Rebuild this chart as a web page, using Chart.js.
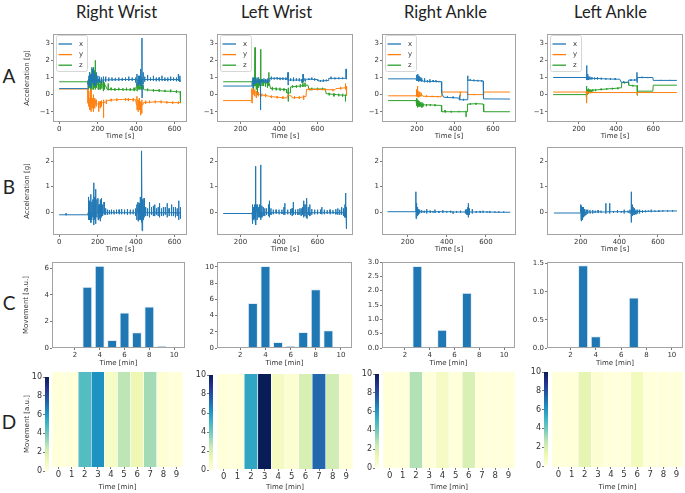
<!DOCTYPE html>
<html>
<head>
<meta charset="utf-8">
<script src="https://cdn.jsdelivr.net/npm/chart.js@4.4.1/dist/chart.umd.min.js"></script>
<style>
  html, body { margin: 0; padding: 0; background: #fff; }
  #page { position: relative; width: 685px; height: 493px; overflow: hidden; font-family: Lato, "Open Sans", sans-serif; color: #222; }
  .ttl { position: absolute; font-size: 16.5px; transform: translate(-50%, -50%); white-space: nowrap; }
  .letter { position: absolute; font-size: 19px; transform: translate(-50%, -50%); }
</style>
</head>
<body>
<div id="page"></div>
<script>
// ---- labels ----
const colTitles = ['Right Wrist', 'Left Wrist', 'Right Ankle', 'Left Ankle']
const rowLetters = ['A', 'B', 'C', 'D']
const minuteLabels = ['0', '1', '2', '3', '4', '5', '6', '7', '8', '9']
const barMinutes = [1, 2, 3, 4, 5, 6, 7, 8, 9, 10]

// time series are stored as a baseline [time s, g] plus spikes [time s, baseline, high, low]

// ---- row A: acceleration per axis ----
const rwXBase = [[0,0.35],[149,0.35],[150,0.85],[633,0.88]]
const rwXSpikes = [[155,0.85,1.1,0.5],[160,0.85,1.3,0.6],[166,0.85,1.2,0.4],[172,0.85,1.5,0.7],[179,0.85,1.6,0.6],[186,0.85,1.2,0.5],[193,0.85,1.3,0.6],[201,0.85,1.1,0.7],[210,0.85,1.05,0.7],[220,0.85,1.0,0.65],[230,0.85,1.05,0.7],[242,0.86,1.05,0.75],[258,0.86,1.0,0.78],[275,0.87,1.0,0.8],[292,0.87,0.98,0.8],[310,0.87,1.0,0.8],[328,0.88,0.98,0.8],[345,0.88,1.0,0.8],[362,0.88,1.05,0.8],[380,0.88,1.0,0.8],[398,0.88,1.0,0.7],[405,0.85,1.2,0.5],[412,0.85,1.1,0.55],[418,0.85,1.1,0.6],[424,0.85,1.5,0.5],[431,0.88,3.3,-0.2],[437,0.88,1.3,0.6],[445,0.88,1.05,0.75],[460,0.88,1.15,0.8],[475,0.88,1.0,0.8],[490,0.88,1.1,0.8],[505,0.88,1.0,0.78],[520,0.88,1.0,0.78],[535,0.88,1.1,0.8],[550,0.88,1.0,0.8],[565,0.88,1.0,0.78],[580,0.88,1.05,0.8],[595,0.88,1.0,0.8],[610,0.88,1.0,0.78],[620,0.88,1.2,0.8],[628,0.88,1.1,0.75]]
const rwYBase = [[0,0.33],[149,0.33],[150,-0.5],[200,-0.55],[240,-0.45],[250,-0.35],[330,-0.28],[398,-0.3],[402,-0.6],[435,-0.6],[440,-0.45],[633,-0.45]]
const rwYSpikes = [[154,-0.5,0.2,-0.7],[160,-0.5,-0.2,-0.9],[166,-0.5,0.3,-1.0],[172,-0.5,-0.2,-0.8],[178,-0.5,0.0,-1.0],[185,-0.55,-0.2,-0.8],[192,-0.55,-0.3,-0.7],[206,-0.55,-0.4,-1.0],[213,-0.5,-0.4,-0.8],[220,-0.5,-0.35,-0.7],[231,-0.45,-0.3,-1.35],[245,-0.4,-0.3,-0.55],[270,-0.32,-0.25,-0.4],[300,-0.3,-0.22,-0.38],[345,-0.28,-0.2,-0.35],[360,-0.28,-0.2,-0.38],[385,-0.3,-0.2,-0.4],[405,-0.6,-0.1,-0.9],[411,-0.6,-0.3,-1.0],[417,-0.6,-0.2,-0.9],[424,-0.6,-0.4,-1.2],[430,-0.6,-0.3,-1.1],[450,-0.45,-0.35,-0.55],[470,-0.45,-0.35,-0.5],[500,-0.42,-0.35,-0.5],[530,-0.42,-0.35,-0.5],[560,-0.45,-0.38,-0.52],[590,-0.47,-0.4,-0.55],[620,-0.47,-0.4,-0.55]]
const rwZBase = [[0,0.75],[149,0.75],[150,0.6],[240,0.55],[250,0.3],[398,0.28],[400,0.45],[440,0.35],[445,0.28],[633,0.15]]
const rwZSpikes = [[153,0.6,0.9,0.3],[158,0.6,1.3,0.4],[164,0.6,1.1,0.2],[170,0.6,1.6,0.3],[176,0.6,1.0,0.3],[182,0.6,1.4,0.4],[188,0.6,2.0,0.3],[194,0.6,1.2,0.4],[202,0.6,0.9,0.3],[207,0.6,0.9,0.3],[214,0.58,0.8,0.3],[222,0.57,0.8,0.35],[230,0.55,0.8,0.2],[236,0.55,0.7,0.3],[255,0.3,0.65,0.25],[270,0.3,0.4,0.25],[290,0.3,0.38,0.24],[310,0.3,0.4,0.25],[332,0.29,0.38,0.23],[350,0.29,0.4,0.24],[370,0.28,0.38,0.22],[390,0.28,0.4,0.2],[405,0.45,0.7,0.2],[412,0.45,0.8,0.3],[420,0.45,0.8,0.3],[428,0.45,1.0,0.3],[437,0.4,0.55,0.3],[460,0.27,0.35,0.2],[490,0.25,0.32,0.18],[520,0.23,0.3,0.16],[550,0.2,0.28,0.15],[580,0.2,0.3,0.14],[610,0.17,0.25,0.1],[630,0.15,0.2,-0.5]]

const lwXBase = [[110,0.5],[259,0.5],[261,0.8],[350,0.78],[352,0.95],[440,0.92],[442,0.85],[540,0.85],[542,0.9],[600,0.88],[602,0.8],[655,0.82],[658,0.95],[752,0.92]]
const lwXSpikes = [[265,0.8,1.0,0.4],[272,0.8,0.95,0.6],[280,0.8,1.0,0.65],[290,0.8,1.0,0.7],[298,0.8,0.9,0.6],[304,0.8,0.85,-0.9],[312,0.8,0.9,0.7],[322,0.8,0.95,0.7],[332,0.8,0.9,0.7],[342,0.8,0.95,0.7],[360,0.95,1.05,0.88],[375,0.95,1.0,0.88],[390,0.95,1.0,0.88],[405,0.93,1.0,0.85],[420,0.93,1.0,0.88],[435,0.92,1.0,0.85],[447,0.85,1.3,0.55],[460,0.85,0.95,0.8],[475,0.85,1.0,0.78],[490,0.85,0.95,0.8],[505,0.85,0.95,0.78],[518,0.85,0.9,0.7],[525,0.85,1.2,0.75],[535,0.85,0.95,0.78],[555,0.9,0.95,0.85],[570,0.9,1.0,0.85],[585,0.88,0.95,0.82],[615,0.8,0.85,0.75],[630,0.8,0.88,0.75],[645,0.82,0.88,0.78],[670,0.95,1.05,0.9],[690,0.95,1.0,0.9],[710,0.95,1.0,0.9],[730,0.95,1.0,0.9],[748,0.95,1.5,0.9]]
const lwYBase = [[110,-0.35],[258,-0.35],[261,0.25],[300,0.0],[350,-0.1],[440,-0.2],[445,-0.05],[465,-0.08],[470,-0.2],[520,-0.15],[540,-0.1],[543,0.3],[690,0.28],[695,0.35],[752,0.4]]
const lwYSpikes = [[259.5,-0.35,0.35,-0.5],[266,0.2,0.35,0.0],[274,0.15,0.3,-0.1],[282,0.1,0.2,-0.2],[292,0.05,0.15,-0.1],[310,-0.02,0.05,-0.1],[330,-0.05,0.05,-0.15],[360,-0.12,-0.05,-0.2],[390,-0.15,-0.1,-0.22],[420,-0.18,-0.1,-0.25],[480,-0.18,-0.1,-0.25],[505,-0.17,-0.1,-0.25],[528,-0.13,-0.05,-0.3],[560,0.3,0.38,0.25],[600,0.3,0.35,0.25],[640,0.29,0.35,0.24],[680,0.28,0.33,0.2],[720,0.37,0.45,0.3],[745,0.4,0.65,0.3],[750,0.4,0.5,-0.05]]
const lwZBase = [[110,0.75],[260,0.75],[262,0.7],[350,0.65],[356,0.35],[438,0.3],[440,0.1],[458,0.1],[460,0.45],[515,0.5],[520,0.55],[550,0.55],[555,0.32],[640,0.33],[645,0.05],[700,0.0],[752,-0.05]]
const lwZSpikes = [[265,0.7,0.9,0.3],[270,0.7,1.0,0.5],[276,0.7,2.75,0.5],[282,0.7,0.9,0.3],[288,0.7,0.8,0.0],[294,0.7,1.0,0.4],[300,0.7,0.9,0.5],[305,0.7,2.65,0.5],[312,0.7,0.9,0.5],[320,0.7,0.85,0.5],[330,0.68,0.9,0.45],[340,0.67,0.85,0.4],[347,0.66,1.3,0.5],[365,0.35,0.45,0.25],[385,0.33,0.4,0.25],[405,0.32,0.4,0.22],[425,0.3,0.38,0.2],[448,0.1,0.4,-0.4],[470,0.46,0.55,0.4],[490,0.48,0.55,0.4],[510,0.5,0.6,0.42],[524,0.55,0.9,0.45],[535,0.55,0.7,0.45],[570,0.32,0.4,0.25],[600,0.33,0.4,0.28],[625,0.33,0.4,0.26],[660,0.04,0.1,-0.05],[685,0.01,0.08,-0.1],[710,-0.02,0.05,-0.1],[730,-0.03,0.05,-0.12],[745,-0.04,0.0,-0.4]]

const raXBase = [[48,0.92],[195,0.92],[197,0.95],[228,0.85],[232,0.78],[328,0.76],[330,0.1],[340,-0.15],[420,-0.2],[422,-0.3],[464,-0.3],[466,0.85],[548,0.8],[550,-0.25],[689,-0.26]]
const raXSpikes = [[199,0.95,1.15,0.8],[204,0.95,1.2,0.8],[209,0.93,1.1,0.75],[214,0.9,1.05,0.8],[220,0.88,1.0,0.78],[225,0.86,0.95,0.75],[240,0.78,0.95,0.72],[255,0.78,0.85,0.72],[268,0.77,0.9,0.72],[285,0.77,0.85,0.73],[300,0.77,0.85,0.72],[315,0.76,0.8,0.72],[360,-0.17,-0.1,-0.2],[390,-0.18,-0.12,-0.22],[425,-0.3,-0.05,-0.32],[445,-0.3,-0.25,-0.35],[468,0.85,1.1,0.8],[480,0.84,0.9,0.8],[500,0.82,0.88,0.78],[520,0.81,0.86,0.77],[540,0.8,0.85,0.76]]
const raYBase = [[48,-0.07],[195,-0.07],[230,-0.05],[232,-0.1],[328,-0.12],[330,0.15],[464,0.15],[466,0.0],[549,0.0],[551,0.15],[689,0.15]]
const raYSpikes = [[198,-0.07,0.3,-0.1],[201.5,-0.07,0.5,-0.15],[205,-0.07,0.35,-0.1],[210,-0.07,0.2,-0.15],[216,-0.06,0.15,-0.1],[222,-0.05,0.1,-0.1],[250,-0.1,-0.05,-0.15],[280,-0.11,-0.07,-0.15],[310,-0.12,-0.08,-0.15],[428,0.15,0.17,-0.1],[500,0.0,0.03,-0.03]]
const raZBase = [[48,-0.35],[195,-0.35],[197,-0.5],[238,-0.6],[328,-0.63],[330,-1.0],[464,-1.0],[466,-0.55],[549,-0.55],[551,-1.0],[689,-1.0]]
const raZSpikes = [[199,-0.5,-0.2,-0.65],[203,-0.5,-0.3,-0.75],[208,-0.52,-0.35,-0.7],[213,-0.55,-0.4,-0.7],[219,-0.55,-0.45,-0.7],[226,-0.57,-0.45,-0.75],[232,-0.58,-0.5,-0.7],[250,-0.6,-0.55,-0.68],[270,-0.6,-0.55,-0.66],[295,-0.62,-0.55,-0.68],[348,-1.0,-0.9,-1.05],[380,-1.0,-0.95,-1.05],[420,-1.0,-0.95,-1.03],[458,-1.0,-0.95,-1.3],[480,-0.55,-0.5,-0.6],[510,-0.53,-0.48,-0.58]]

const laXBase = [[62,1.0],[240,1.0],[242,0.95],[420,0.9],[428,0.72],[466,0.72],[468,0.85],[512,0.85],[514,1.0],[598,1.0],[600,0.83],[727,0.83]]
const laXSpikes = [[243,0.95,1.7,0.85],[248,0.95,1.2,0.85],[253,0.95,1.05,0.85],[260,0.95,1.05,0.88],[270,0.95,1.02,0.88],[285,0.94,1.0,0.88],[300,0.94,1.02,0.88],[320,0.93,0.98,0.88],[345,0.92,0.97,0.87],[370,0.91,0.96,0.86],[395,0.9,0.95,0.86],[440,0.72,0.77,0.68],[480,0.85,0.9,0.8],[500,0.85,0.9,0.8],[513,0.9,1.3,0.7],[540,1.0,1.04,0.96],[570,1.0,1.03,0.96],[640,0.83,0.86,0.8],[690,0.83,0.86,0.8]]
const laYBase = [[62,0.15],[240,0.15],[244,0.12],[727,0.12]]
const laYSpikes = [[242,0.15,0.2,-0.5],[248,0.12,0.2,0.05],[260,0.12,0.18,0.08],[514,0.12,0.15,0.0]]
const laZBase = [[62,0.0],[240,0.0],[244,0.2],[300,0.28],[428,0.4],[430,0.7],[466,0.72],[468,0.55],[512,0.5],[516,0.2],[598,0.2],[600,0.55],[727,0.55]]
const laZSpikes = [[242,0.0,0.5,-0.3],[247,0.2,0.3,0.0],[252,0.2,0.35,0.05],[258,0.22,0.3,0.1],[265,0.23,0.3,0.15],[275,0.25,0.32,0.18],[290,0.27,0.33,0.2],[320,0.3,0.35,0.25],[350,0.33,0.38,0.28],[380,0.35,0.4,0.3],[410,0.38,0.42,0.32],[445,0.7,0.75,0.65],[490,0.52,0.57,0.47],[514,0.5,0.55,-0.05]]

// ---- row B: dynamic acceleration ----
const rwBBase = [[0,-0.1],[148,-0.1],[150,-0.02],[633,-0.03]]
const rwBSpikes = [[36,-0.1,-0.05,-0.12],[152,-0.02,0.6,-0.3],[156,-0.02,0.3,-0.2],[160,-0.02,0.45,-0.3],[165,-0.02,0.7,-0.4],[170,-0.02,0.4,-0.3],[175,-0.02,0.5,-0.2],[180,-0.02,1.15,-0.5],[185,-0.02,0.6,-0.3],[190,-0.02,0.9,-0.45],[196,-0.02,0.5,-0.2],[202,-0.02,0.55,-0.3],[208,-0.02,0.3,-0.25],[214,-0.02,0.5,-0.35],[220,-0.02,0.55,-0.2],[226,-0.02,0.3,-0.15],[234,-0.02,0.4,-0.1],[242,-0.02,0.15,-0.1],[252,-0.02,0.1,-0.1],[262,-0.02,0.08,-0.08],[272,-0.02,0.1,-0.08],[285,-0.02,0.08,-0.08],[298,-0.02,0.1,-0.06],[312,-0.02,0.1,-0.08],[325,-0.02,0.12,-0.08],[340,-0.02,0.1,-0.08],[355,-0.02,0.12,-0.1],[370,-0.02,0.1,-0.08],[385,-0.02,0.1,-0.08],[398,-0.02,0.15,-0.15],[404,-0.02,0.3,-0.3],[410,-0.02,0.4,-0.35],[416,-0.02,0.35,-0.3],[422,-0.02,0.6,-0.3],[427,-0.02,0.5,-0.4],[431,-0.02,2.4,-0.72],[436,-0.02,0.5,-0.3],[442,-0.02,0.55,-0.2],[450,-0.02,0.2,-0.15],[460,-0.02,0.15,-0.15],[470,-0.02,0.4,-0.2],[480,-0.02,0.2,-0.1],[490,-0.02,0.25,-0.15],[497,-0.02,0.3,-0.15],[506,-0.02,0.15,-0.1],[515,-0.02,0.2,-0.15],[522,-0.02,0.35,-0.2],[532,-0.02,0.15,-0.15],[542,-0.02,0.2,-0.15],[552,-0.02,0.2,-0.1],[562,-0.02,0.35,-0.2],[572,-0.02,0.15,-0.15],[585,-0.02,0.3,-0.15],[595,-0.02,0.2,-0.15],[605,-0.02,0.2,-0.2],[614,-0.02,0.15,-0.15],[622,-0.02,0.45,-0.3],[630,-0.02,0.2,-0.25]]
const lwBBase = [[110,-0.05],[258,-0.05],[259,-0.02],[752,-0.02]]
const lwBSpikes = [[261,-0.02,0.3,-0.45],[265,-0.02,0.3,-0.3],[270,-0.02,0.2,-0.25],[275,-0.02,0.3,-0.3],[280,-0.02,1.8,-0.5],[286,-0.02,0.3,-0.3],[292,-0.02,0.2,-0.2],[298,-0.02,0.3,-0.2],[305,-0.02,1.85,-0.3],[311,-0.02,0.25,-0.2],[318,-0.02,0.2,-0.15],[326,-0.02,0.15,-0.15],[335,-0.02,0.15,-0.1],[345,-0.02,0.3,-0.15],[350,-0.02,0.45,-0.2],[358,-0.02,0.15,-0.1],[370,-0.02,0.1,-0.08],[385,-0.02,0.1,-0.06],[400,-0.02,0.1,-0.08],[415,-0.02,0.1,-0.06],[425,-0.02,0.2,-0.1],[430,-0.02,0.35,-0.1],[445,-0.02,0.1,-0.08],[460,-0.02,0.12,-0.1],[468,-0.02,0.15,-0.15],[474,-0.02,0.4,-0.1],[485,-0.02,0.1,-0.1],[498,-0.02,0.12,-0.1],[508,-0.02,0.15,-0.1],[515,-0.02,0.15,-0.15],[522,-0.02,0.2,-0.1],[528,-0.02,0.45,-0.2],[534,-0.02,0.3,-0.15],[540,-0.02,0.3,-0.2],[545,-0.02,0.55,-0.25],[552,-0.02,0.2,-0.1],[560,-0.02,0.3,-0.15],[570,-0.02,0.12,-0.1],[585,-0.02,0.1,-0.08],[600,-0.02,0.1,-0.08],[615,-0.02,0.1,-0.06],[622,-0.02,0.2,-0.08],[635,-0.02,0.1,-0.08],[650,-0.02,0.08,-0.06],[665,-0.02,0.1,-0.08],[680,-0.02,0.08,-0.06],[695,-0.02,0.12,-0.08],[705,-0.02,0.15,-0.1],[715,-0.02,0.1,-0.1],[725,-0.02,0.2,-0.1],[735,-0.02,0.15,-0.15],[742,-0.02,0.3,-0.2],[746,-0.02,0.75,-0.2],[749,-0.02,0.2,-0.65]]
const raBBase = [[98,0.02],[724,0.0]]
const raBSpikes = [[243,0.02,0.8,-0.25],[247,0.02,0.35,-0.15],[251,0.02,0.2,-0.15],[256,0.02,0.12,-0.1],[262,0.02,0.1,-0.05],[272,0.02,0.08,-0.03],[285,0.02,0.06,-0.03],[298,0.02,0.12,-0.05],[315,0.02,0.06,-0.03],[330,0.02,0.05,-0.02],[340,0.02,0.1,-0.03],[360,0.02,0.05,-0.02],[380,0.02,0.08,-0.03],[400,0.02,0.05,-0.02],[420,0.02,0.06,-0.02],[432,0.01,0.04,-0.06],[450,0.01,0.05,-0.03],[470,0.01,0.06,-0.03],[495,0.01,0.1,-0.05],[502,0.01,0.12,-0.1],[507,0.01,0.2,-0.1],[510,0.01,0.35,-0.2],[515,0.01,0.15,-0.1],[530,0.01,0.12,-0.05],[550,0.01,0.05,-0.03],[570,0.01,0.05,-0.03],[585,0.01,0.06,-0.02],[605,0.01,0.04,-0.02],[620,0.01,0.05,-0.02],[645,0.0,0.04,-0.02],[665,0.0,0.04,-0.02],[690,0.0,0.03,-0.02]]
const laBBase = [[61,-0.03],[198,-0.03],[199,0.0],[699,0.05]]
const laBSpikes = [[201,-0.02,0.3,-0.3],[204.5,0.0,0.25,-0.35],[208,0.0,0.2,-0.3],[212,0.0,0.2,-0.2],[217,0.0,0.15,-0.15],[222,0.0,0.12,-0.12],[228,0.0,0.1,-0.1],[236,0.0,0.1,-0.06],[248,0.01,0.08,-0.05],[262,0.01,0.08,-0.05],[275,0.01,0.06,-0.03],[290,0.01,0.08,-0.03],[305,0.01,0.06,-0.02],[330,0.01,0.35,-0.05],[350,0.02,0.35,-0.05],[370,0.02,0.05,-0.02],[390,0.02,0.08,-0.02],[410,0.02,0.05,-0.02],[425,0.02,0.1,-0.05],[445,0.02,0.06,-0.02],[455,0.02,0.1,-0.05],[462,0.02,0.8,-0.4],[467,0.02,0.3,-0.15],[472,0.03,0.2,-0.1],[478,0.03,0.15,-0.1],[486,0.03,0.1,-0.08],[495,0.03,0.1,-0.05],[505,0.03,0.1,-0.05],[520,0.03,0.08,-0.02],[535,0.03,0.08,0.0],[550,0.04,0.07,0.01],[565,0.04,0.1,0.0],[585,0.04,0.07,0.01],[605,0.04,0.08,0.01],[625,0.05,0.08,0.02],[650,0.05,0.08,0.02],[675,0.05,0.08,0.02]]

// ---- rows C and D: movement per minute (a.u.) ----
const rwMove = [0, 0, 4.62, 6.2, 0.6, 2.68, 1.18, 3.12, 0.15, 0]
const lwMove = [0, 0, 5.55, 10.1, 0.73, 0.24, 1.98, 7.25, 2.18, 0]
const raMove = [0, 0, 2.86, 0, 0.64, 0, 1.93, 0, 0, 0]
const laMove = [0, 0, 1.47, 0.21, 0, 0, 0.9, 0, 0, 0]

// axis settings
const accTicks = [-1, 0, 1, 2, 3]
const dynTicks = [0, 1, 2]
const timeTicks = [[0, 200, 400, 600], [200, 400, 600], [200, 400, 600], [200, 400, 600]]
const rangeA = [[-32, 665], [78, 784], [16, 721], [29, 760]]
const rangeB = [[-32, 665], [78, 784], [70, 753], [25, 730]]
const moveTicks = [[0, 2, 4, 6], [0, 2, 4, 6, 8, 10], [0, 0.5, 1, 1.5, 2, 2.5, 3], [0, 0.5, 1, 1.5]]
const moveMax = [6.48, 10.6, 3.0, 1.53]
const moveDecimals = [0, 0, 1, 1]
const heatTicks = [0, 2, 4, 6, 8, 10]

function buildSeries(base, spikes) {
    let pts = base.map(p => [p[0], p[1]])
    spikes.forEach(s => {
        pts.push([s[0] - 0.8, s[1]], [s[0] - 0.3, s[2]], [s[0] + 0.3, s[3]], [s[0] + 0.8, s[1]])
    })
    return pts.sort((a, b) => a[0] - b[0])
}

const accSeries = [
    [buildSeries(rwXBase, rwXSpikes), buildSeries(rwYBase, rwYSpikes), buildSeries(rwZBase, rwZSpikes)],
    [buildSeries(lwXBase, lwXSpikes), buildSeries(lwYBase, lwYSpikes), buildSeries(lwZBase, lwZSpikes)],
    [buildSeries(raXBase, raXSpikes), buildSeries(raYBase, raYSpikes), buildSeries(raZBase, raZSpikes)],
    [buildSeries(laXBase, laXSpikes), buildSeries(laYBase, laYSpikes), buildSeries(laZBase, laZSpikes)]
]
const dynSeries = [buildSeries(rwBBase, rwBSpikes), buildSeries(lwBBase, lwBSpikes), buildSeries(raBBase, raBSpikes), buildSeries(laBBase, laBSpikes)]
const moveSeries = [rwMove, lwMove, raMove, laMove]

// ---- layout (page px) ----
const colsAB = [{l: 53, r: 187}, {l: 217, r: 353}, {l: 382, r: 516}, {l: 547, r: 683}]
const colsC = [{l: 52, r: 185}, {l: 217, r: 352}, {l: 382, r: 515}, {l: 547, r: 683}]
const heatBox = [{l: 52, r: 183, t: 372, b: 467}, {l: 217, r: 353, t: 374, b: 469}, {l: 383, r: 515, t: 372, b: 468}, {l: 552, r: 683, t: 372, b: 467}]
const cbarBox = [{l: 45, r: 49, t: 377, b: 471}, {l: 209, r: 213, t: 375, b: 470}, {l: 375, r: 379, t: 374, b: 468}, {l: 544, r: 548, t: 372, b: 466}]
const rowA = {t: 34, b: 122, mb: 20}
const rowB = {t: 147, b: 235, mb: 20}
const rowC = {t: 262, b: 348, mb: 21}

const lineColors = ['#1f77b4', '#ff7f0e', '#2ca02c']
const YLGNBU = ['#ffffd9', '#edf8b1', '#c7e9b4', '#7fcdbb', '#41b6c4', '#1d91c0', '#225ea8', '#253494', '#081d58']

const tickFont = {family: 'DejaVu Sans', size: 7}
const titleFont = {family: 'DejaVu Sans', size: 7}
const textColor = '#333'

function hexRgb(h) {
    return [1, 3, 5].map(i => parseInt(h.slice(i, i + 2), 16))
}
function cmap(f) {
    f = Math.max(0, Math.min(1, f))
    let p = f * 8
    let i = Math.min(7, Math.floor(p))
    let t = p - i
    let a = hexRgb(YLGNBU[i]), b = hexRgb(YLGNBU[i + 1])
    let c = a.map((v, k) => Math.round(v + (b[k] - v) * t))
    return `rgb(${c[0]},${c[1]},${c[2]})`
}
function fmt(dec) {
    return v => (dec ? Number(v).toFixed(dec) : String(v)).replace('-', '\u2212')
}

// ---- plugins ----
const framePlugin = {
    id: 'frame',
    afterDatasetsDraw(chart) {
        let a = chart.chartArea, ctx = chart.ctx
        ctx.save()
        ctx.strokeStyle = '#a3a3a3'
        ctx.lineWidth = 1
        ctx.strokeRect(Math.round(a.left) + 0.5, Math.round(a.top) + 0.5, Math.round(a.right - a.left) - 1, Math.round(a.bottom - a.top) - 1)
        ctx.restore()
    }
}
const boxLegend = {
    id: 'boxLegend',
    afterDatasetsDraw(chart) {
        let a = chart.chartArea, ctx = chart.ctx
        let x0 = a.left + 3, y0 = a.top + 1
        ctx.save()
        ctx.beginPath()
        ctx.roundRect(x0 + 0.5, y0 + 0.5, 31, 36, 2)
        ctx.fillStyle = 'rgba(255,255,255,0.85)'
        ctx.fill()
        ctx.strokeStyle = '#d6d6d6'
        ctx.lineWidth = 1
        ctx.stroke()
        chart.data.datasets.forEach((ds, i) => {
            let y = y0 + 9 + i * 10.6
            ctx.beginPath()
            ctx.strokeStyle = ds.borderColor
            ctx.lineWidth = 1.3
            ctx.moveTo(x0 + 2.5, y)
            ctx.lineTo(x0 + 16, y)
            ctx.stroke()
            ctx.fillStyle = textColor
            ctx.font = '7px "DejaVu Sans"'
            ctx.textBaseline = 'middle'
            ctx.fillText(ds.label, x0 + 23, y)
        })
        ctx.restore()
    }
}
const gradientBar = {
    id: 'gradientBar',
    beforeDatasetsDraw(chart) {
        let a = chart.chartArea, ctx = chart.ctx
        let g = ctx.createLinearGradient(0, a.bottom, 0, a.top)
        YLGNBU.forEach((c, i) => g.addColorStop(i / 8, c))
        ctx.save()
        ctx.fillStyle = g
        ctx.fillRect(a.left, a.top, a.right - a.left, a.bottom - a.top)
        ctx.restore()
    }
}

// ---- helpers ----
const page = document.getElementById('page')
function makeCanvas(left, top, w, h) {
    let d = document.createElement('div')
    d.style.cssText = `position:absolute;left:${left}px;top:${top}px;width:${w}px;height:${h}px;`
    let c = document.createElement('canvas')
    d.appendChild(c)
    page.appendChild(d)
    return c
}
function tickGrid(len) {
    return {drawOnChartArea: false, drawTicks: true, tickLength: len, color: '#555', lineWidth: 0.8, offset: false}
}
function linAxis(min, max, ticks, dec, title, size, isX) {
    return {
        type: 'linear', min: min, max: max, offset: false,
        afterBuildTicks: s => { s.ticks = ticks.map(v => ({value: v})) },
        afterFit: s => { if (isX) s.height = size; else s.width = size },
        grid: tickGrid(2),
        border: {display: false},
        ticks: {font: tickFont, color: textColor, padding: 1, maxRotation: 0, autoSkip: false, callback: fmt(dec)},
        title: {display: !!title, text: title || '', font: titleFont, color: textColor, padding: isX ? {top: 0, bottom: 2} : {top: 4, bottom: 0}}
    }
}
function baseOptions() {
    return {
        responsive: true, maintainAspectRatio: false, animation: false, devicePixelRatio: 1,
        events: [],
        plugins: {legend: {display: false}, tooltip: {enabled: false}}
    }
}

// panels with a frame (rows A, B, C)
function framedPanel(box, row, first, type, data, xCfg, yCfg, extraPlugins) {
    let ML = first ? 34 : 26, MT = 6, MR = 8
    let left = box.l - ML, top = row.t - MT
    let w = ML + (box.r - box.l) + MR, h = MT + (row.b - row.t) + row.mb
    let opts = baseOptions()
    opts.layout = {padding: {top: MT, right: MR, left: 0, bottom: 0}}
    opts.scales = {x: linAxis(xCfg.min, xCfg.max, xCfg.ticks, 0, xCfg.title, row.mb, true),
                   y: linAxis(yCfg.min, yCfg.max, yCfg.ticks, yCfg.dec, first ? yCfg.title : '', ML, false)}
    new Chart(makeCanvas(left, top, w, h), {
        type: type,
        data: data,
        options: opts,
        plugins: [framePlugin].concat(extraPlugins || [])
    })
}

// ---- text ----
const titleX = [116.5, 276.5, 445.5, 610.5]
colTitles.forEach((t, i) => {
    let d = document.createElement('div')
    d.className = 'ttl'
    d.style.left = titleX[i] + 'px'
    d.style.top = '12px'
    d.textContent = t
    page.appendChild(d)
})
const letterY = [75, 186, 302, 421]
rowLetters.forEach((t, i) => {
    let d = document.createElement('div')
    d.className = 'letter'
    d.style.left = '9px'
    d.style.top = letterY[i] + 'px'
    d.textContent = t
    page.appendChild(d)
})

// ---- build the 4 columns ----
for (let c = 0; c < 4; c++) {
    let first = c === 0

    // A: acceleration x/y/z
    framedPanel(colsAB[c], rowA, first, 'line', {
        datasets: accSeries[c].map((s, i) => ({
            label: ['x', 'y', 'z'][i], data: s, borderColor: lineColors[i], borderWidth: 1,
            pointRadius: 0, tension: 0
        }))
    }, {min: rangeA[c][0], max: rangeA[c][1], ticks: timeTicks[c], title: 'Time [s]'},
       {min: -1.6, max: 3.54, ticks: accTicks, dec: 0, title: 'Acceleration [g]'}, [boxLegend])

    // B: dynamic acceleration
    framedPanel(colsAB[c], rowB, first, 'line', {
        datasets: [{label: 'acc', data: dynSeries[c], borderColor: lineColors[0], borderWidth: 1, pointRadius: 0, tension: 0}]
    }, {min: rangeB[c][0], max: rangeB[c][1], ticks: timeTicks[c], title: 'Time [s]'},
       {min: -0.89, max: 2.55, ticks: dynTicks, dec: 0, title: 'Acceleration [g]'})

    // C: movement bars
    framedPanel(colsC[c], rowC, first, 'bar', {
        datasets: [{
            label: 'movement',
            data: moveSeries[c].map((v, i) => ({x: barMinutes[i], y: v})),
            backgroundColor: '#1f77b4', borderColor: 'rgba(225,236,248,0.9)', borderWidth: 1,
            barPercentage: 0.8, categoryPercentage: 1
        }]
    }, {min: 0.15, max: 10.88, ticks: [2, 4, 6, 8, 10], title: 'Time [min]'},
       {min: 0, max: moveMax[c], ticks: moveTicks[c], dec: moveDecimals[c], title: 'Movement [a.u.]'})

    // D: heatmap
    let hb = heatBox[c]
    let hMB = 492 - hb.b
    let hOpts = baseOptions()
    hOpts.layout = {padding: {top: 6, right: 6, left: 2, bottom: 0}}
    hOpts.scales = {
        x: {
            type: 'category', offset: true,
            afterFit: s => { s.height = hMB },
            grid: tickGrid(2), border: {display: false},
            ticks: {font: {family: 'DejaVu Sans', size: 8.5}, color: textColor, padding: 1, maxRotation: 0, autoSkip: false},
            title: {display: true, text: 'Time [min]', font: titleFont, color: textColor, padding: {top: 0, bottom: 1}}
        },
        y: {min: 0, max: 10, display: false}
    }
    new Chart(makeCanvas(hb.l - 2, hb.t - 6, (hb.r - hb.l) + 8, (hb.b - hb.t) + 6 + hMB), {
        type: 'bar',
        data: {
            labels: minuteLabels,
            datasets: [{
                label: 'movement',
                data: moveSeries[c].map(() => [0, 10]),
                backgroundColor: moveSeries[c].map(v => cmap(v / 10)),
                borderColor: '#ffffff',
                borderWidth: {left: 0.6, right: 0.6, top: 0, bottom: 0},
                borderSkipped: false,
                barPercentage: 1, categoryPercentage: 1
            }]
        },
        options: hOpts
    })

    // D: colour bar
    let cb = cbarBox[c]
    let cML = first ? 26 : 20
    let cOpts = baseOptions()
    cOpts.layout = {padding: {top: 6, right: 2, left: 0, bottom: 6}}
    let yAx = linAxis(0, 10, heatTicks, 0, first ? 'Movement [a.u.]' : '', cML, false)
    yAx.ticks.font = {family: 'DejaVu Sans', size: 8}
    cOpts.scales = {x: {display: false}, y: yAx}
    new Chart(makeCanvas(cb.l - cML, cb.t - 6, cML + (cb.r - cb.l) + 2, (cb.b - cb.t) + 12), {
        type: 'line',
        data: {labels: [], datasets: []},
        options: cOpts,
        plugins: [gradientBar]
    })
}
</script>
</body>
</html>
